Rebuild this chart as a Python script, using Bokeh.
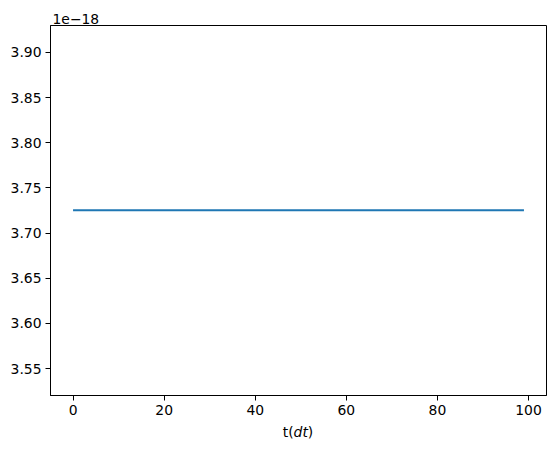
import numpy as np
from bokeh.plotting import figure
from bokeh.layouts import column
from bokeh.models import Range1d, FixedTicker, NumeralTickFormatter, Div
from bokeh.embed import file_html
from bokeh.resources import INLINE

# values
t_steps = list(range(100))
energy = [3.7253e-18] * 100
scale_exp = -18
x_ticks = [0, 20, 40, 60, 80, 100]
y_ticks = [3.55, 3.60, 3.65, 3.70, 3.75, 3.80, 3.85, 3.90]

FONT = "DejaVu Sans"
FSIZE = "13.9px"

y_scaled = np.array(energy) / 10.0 ** scale_exp

p = figure(width=556, height=424, output_backend="svg", toolbar_location=None,
           x_range=Range1d(-4.95, 103.95), y_range=Range1d(3.5203, 3.9297),
           min_border_left=50, min_border_right=10, min_border_top=25,
           min_border_bottom=29)
p.line(t_steps, y_scaled, line_color="#1f77b4", line_width=2)

p.xgrid.visible = False
p.ygrid.visible = False
p.outline_line_color = "black"
p.outline_line_width = 1
p.outline_line_alpha = 1

for ax in (p.xaxis[0], p.yaxis[0]):
    ax.axis_line_color = "black"
    ax.major_tick_line_color = "black"
    ax.major_tick_out = 5
    ax.major_tick_in = 0
    ax.minor_tick_line_color = None
    ax.major_label_text_font = FONT
    ax.major_label_text_font_size = FSIZE
    ax.major_label_text_color = "black"
    ax.major_label_standoff = 4

p.xaxis.ticker = FixedTicker(ticks=x_ticks)
p.yaxis.ticker = FixedTicker(ticks=y_ticks)
p.yaxis.formatter = NumeralTickFormatter(format="0.00")

# offset text above the y axis, as the title
p.title.text = "1e\u221218"
p.title.align = "left"
p.title.text_font = FONT
p.title.text_font_size = FSIZE
p.title.text_font_style = "normal"
p.title.text_color = "black"
p.title.offset = 2
p.title.standoff = 4

# x label "t(dt)" with italic dt, like mathtext
xlabel = Div(text="t(<i>dt</i>)", width=496, height=20, margin=(0, 0, 0, 50),
             styles={"font-family": FONT, "font-size": FSIZE, "color": "black",
                     "text-align": "center", "line-height": "16px",
                     "width": "496px"})

layout = column(p, xlabel, spacing=0)
open("out.html", "w").write(file_html(layout, INLINE))
